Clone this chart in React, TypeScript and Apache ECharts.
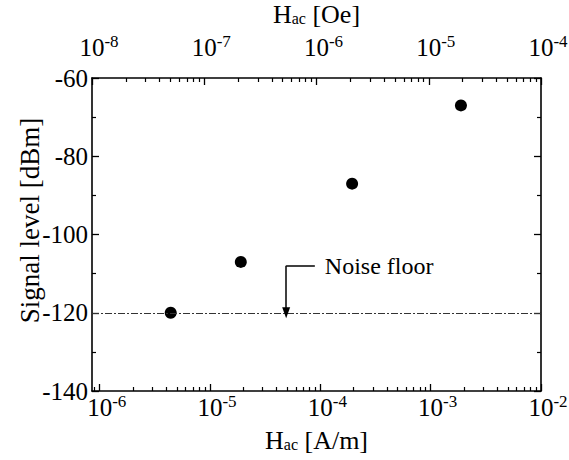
import React, { useEffect, useRef } from "react";
import * as echarts from "echarts";

// Data: applied field H_ac [A/m] vs signal level [dBm]
const fieldAm = [4.4e-6, 1.9e-5, 1.94e-4, 1.88e-3];
const signalDbm = [-120, -107, -87, -67];

// Axes (log10 exponents)
const bottomExponents = [-6, -5, -4, -3, -2];
const topExponents = [-8, -7, -6, -5, -4];
const bottomLogMin = -6.07;
const bottomLogMax = -2;
const topLogMin = -8;
const topLogMax = -4;
const yTickValues = [-140, -120, -100, -80, -60];

const noiseFloor = -120;
const arrowLogX = -4.31;
const arrowTopY = -108;
const elbowLogX = -4.05;
const noiseLabel = "Noise floor";

const FONT = "Liberation Serif";

function minorLogs(minE: number, maxE: number): number[] {
  const out: number[] = [];
  for (let e = Math.floor(minE); e < maxE; e++) {
    for (let k = 2; k <= 9; k++) {
      const v = e + Math.log10(k);
      if (v > minE && v < maxE) out.push(v);
    }
  }
  return out;
}

export default function App() {
  const ref = useRef<HTMLDivElement>(null);
  useEffect(() => {
    if (!ref.current) return;
    const chart = echarts.init(ref.current, null, { renderer: "svg" });
    const black = "#000";
    const rich = {
      b: {
        fontSize: 25,
        fontFamily: FONT,
        color: black,
        lineHeight: 28,
        verticalAlign: "middle",
        padding: [0, 0, 0, 14],
      },
      s: {
        fontSize: 17,
        fontFamily: FONT,
        color: black,
        lineHeight: 10,
        verticalAlign: "top",
      },
    };
    const nameRich = {
      h: { fontSize: 26, fontFamily: FONT, color: black },
      sub: { fontSize: 16, fontFamily: FONT, color: black, padding: [8, 0, 0, 0] },
    };
    const expFmt = (v: number) => `{b|10}{s|${Math.round(v)}}`;
    const lineStyle = { color: black, width: 1.6 };
    const majorTick = { show: true, inside: true, length: 7, lineStyle: { color: black, width: 1.3 } };
    const minorTick = { show: true, inside: true, length: 4, lineStyle: { color: black, width: 1.2 } };

    chart.setOption({
      animation: false,
      backgroundColor: "#fff",
      grid: {
        left: 92,
        right: 28,
        top: 78,
        bottom: 69,
        containLabel: false,
        outerBoundsMode: "none",
      },
      xAxis: [
        {
          type: "value",
          position: "bottom",
          min: bottomLogMin,
          max: bottomLogMax,
          splitLine: { show: false },
          axisLine: { show: true, lineStyle },
          axisTick: { ...majorTick, customValues: bottomExponents },
          axisLabel: {
            customValues: bottomExponents,
            formatter: expFmt,
            rich,
            margin: 2,
          },
          name: "{h|H}{sub|ac}{h| [A/m]}",
          nameLocation: "middle",
          nameGap: 36,
          nameMoveOverlap: false,
          nameTextStyle: { rich: nameRich },
        },
        {
          type: "value",
          position: "bottom",
          min: bottomLogMin,
          max: bottomLogMax,
          splitLine: { show: false },
          axisLine: { show: false },
          axisTick: { ...minorTick, customValues: minorLogs(bottomLogMin, bottomLogMax) },
          axisLabel: { show: false },
        },
        {
          type: "value",
          position: "top",
          min: topLogMin,
          max: topLogMax,
          splitLine: { show: false },
          axisLine: { show: true, lineStyle },
          axisTick: { ...majorTick, customValues: topExponents },
          axisLabel: {
            customValues: topExponents,
            formatter: expFmt,
            rich,
            margin: 17,
          },
          name: "{h|H}{sub|ac}{h| [Oe]}",
          nameLocation: "middle",
          nameGap: 51,
          nameMoveOverlap: false,
          nameTextStyle: { rich: nameRich },
        },
        {
          type: "value",
          position: "top",
          min: topLogMin,
          max: topLogMax,
          splitLine: { show: false },
          axisLine: { show: false },
          axisTick: { ...minorTick, customValues: minorLogs(topLogMin, topLogMax) },
          axisLabel: { show: false },
        },
      ],
      yAxis: [
        {
          type: "value",
          position: "left",
          min: -140,
          max: -60,
          interval: 20,
          splitLine: { show: false },
          axisLine: { show: true, lineStyle },
          axisTick: { ...majorTick, customValues: yTickValues },
          minorTick: { show: true, splitNumber: 2, length: 4, lineStyle: { color: black, width: 1.2 } },
          axisLabel: {
            fontSize: 25,
            fontFamily: FONT,
            color: black,
            margin: 4,
          },
          name: "Signal level [dBm]",
          nameLocation: "middle",
          nameGap: 49,
          nameMoveOverlap: false,
          nameTextStyle: {
            fontSize: 27,
            fontFamily: FONT,
            color: black,
            padding: [0, 0, 0, 28],
          },
        },
        {
          type: "value",
          position: "right",
          min: -140,
          max: -60,
          interval: 20,
          splitLine: { show: false },
          axisLine: { show: true, lineStyle },
          axisTick: { ...majorTick },
          minorTick: { show: true, splitNumber: 2, length: 4, lineStyle: { color: black, width: 1.2 } },
          axisLabel: { show: false },
        },
      ],
      series: [
        {
          type: "scatter",
          xAxisIndex: 0,
          yAxisIndex: 0,
          symbol: "circle",
          symbolSize: 12,
          itemStyle: { color: black, opacity: 1 },
          data: fieldAm.map((h, i) => [Math.log10(h), signalDbm[i]]),
          markLine: {
            silent: true,
            animation: false,
            symbol: ["none", "none"],
            label: { show: false },
            data: [
              {
                yAxis: noiseFloor,
                lineStyle: { color: "#333", width: 1.2, type: [7, 2, 2, 2] },
                label: { show: false },
              },
              [
                {
                  coord: [arrowLogX, arrowTopY],
                  symbol: "none",
                  lineStyle: { color: black, width: 1.5, type: "solid" },
                  label: { show: false },
                },
                {
                  coord: [arrowLogX, noiseFloor],
                  symbol: "triangle",
                  symbolSize: [8, 11],
                  symbolRotate: 180,
                },
              ],
              [
                {
                  coord: [arrowLogX, arrowTopY],
                  lineStyle: { color: black, width: 1.5, type: "solid" },
                  label: {
                    show: true,
                    position: "end",
                    formatter: noiseLabel,
                    fontSize: 24,
                    fontFamily: FONT,
                    color: black,
                    distance: 10,
                  },
                },
                { coord: [elbowLogX, arrowTopY] },
              ],
            ],
          },
        },
      ],
    });
    return () => chart.dispose();
  }, []);
  return (
    <div
      ref={ref}
      style={{ position: "absolute", left: 0, top: 0, width: 569, height: 460 }}
    />
  );
}
